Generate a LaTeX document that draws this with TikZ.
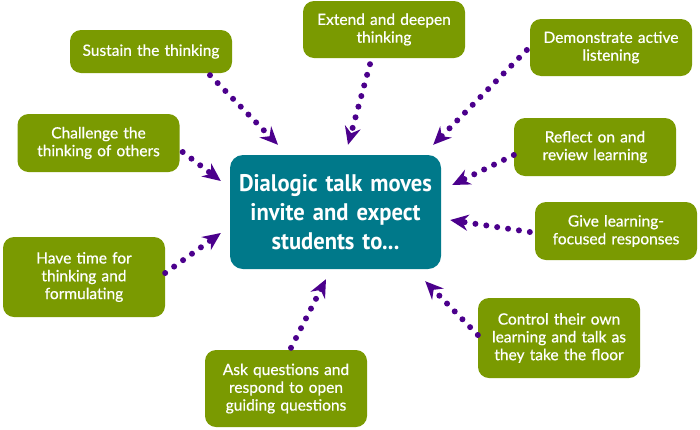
\documentclass[tikz,border=0pt]{standalone}
\usepackage{fontspec}
\setmainfont{Lato}
\newfontfamily\movefont[FakeBold=0.6]{Lato}
\newfontfamily\hubfont[FakeStretch=0.94]{PT Sans Bold}
\usepackage{tikz}
\usetikzlibrary{arrows.meta, positioning, calc}
\definecolor{movegreen}{RGB}{122,154,1}
\definecolor{hubteal}{RGB}{0,121,138}
\definecolor{dotpurple}{RGB}{75,0,140}

\begin{document}
\begin{tikzpicture}[x=1pt, y=-1pt,
  move/.style={rectangle, fill=movegreen, rounded corners=11pt, minimum width=162pt,
               text width=158pt, inner xsep=2pt, inner ysep=0pt, align=center,
               text=white, font=\movefont\fontsize{15.5}{17.8}\selectfont},
  hub/.style={rectangle, fill=hubteal, rounded corners=13pt, minimum width=211pt,
              minimum height=114pt, text width=205pt, inner xsep=3pt, align=center,
              text=white, font=\hubfont\fontsize{24}{29}\selectfont},
  dotarr/.style={dotpurple, line width=6pt, line cap=round, dash pattern=on 0pt off 11pt,
                 -{Stealth[length=18pt, width=16pt, inset=6pt]}},
]
\useasboundingbox (0,0) rectangle (700,429);

\node[hub] (dial) at (335.5,212) {Dialogic talk moves\\invite and expect\\students to...};

\node[move, minimum height=43pt] (sustain)   at (151,51.5)  {Sustain the thinking};
\node[move, minimum height=57pt] (extend)    at (384,29.5)  {Extend and deepen\\thinking};
\node[move, minimum height=57pt] (demo)      at (611,47.5)  {Demonstrate active\\listening};
\node[move, minimum height=58pt] (reflect)   at (595,147)   {Reflect on and\\review learning};
\node[move, minimum height=58pt] (give)      at (616,231)   {Give learning-\\focused responses};
\node[move, minimum height=80pt] (control)   at (559,338)   {Control their own\\learning and talk as\\they take the floor};
\node[move, minimum height=77pt] (ask)       at (286,388.5) {Ask questions and\\respond to open\\guiding questions};
\node[move, minimum height=80pt] (havetime)  at (84,277)    {Have time for\\thinking and\\formulating};
\node[move, minimum height=58pt] (challenge) at (98.5,143)  {Challenge the\\thinking of others};

\draw[dotarr] ([shift={(59,2)}]sustain.south)     -- ([shift={(-57.5,-10)}]dial.north);
\draw[dotarr] ([shift={(-14,6)}]extend.south)     -- ([shift={(12.5,-10)}]dial.north);
\draw[dotarr] ([shift={(-3,2.5)}]demo.west)       -- ([shift={(-8,-10)}]dial.north east);
\draw[dotarr] ([shift={(0,8)}]reflect.west)       -- ([shift={(11,-27)}]dial.east);
\draw[dotarr] ([shift={(-5,1)}]give.west)         -- ([shift={(9,8)}]dial.east);
\draw[dotarr] ([shift={(0,-3)}]control.west)      -- ([shift={(-16,12)}]dial.south east);
\draw[dotarr] ([shift={(5,-2)}]ask.north)         -- ([shift={(-9.5,10)}]dial.south);
\draw[dotarr] ([shift={(0,-4)}]havetime.east)     -- ([shift={(-9,21)}]dial.west);
\draw[dotarr] ([shift={(3,9)}]challenge.east)     -- ([shift={(-9,-31)}]dial.west);
\end{tikzpicture}
\end{document}
